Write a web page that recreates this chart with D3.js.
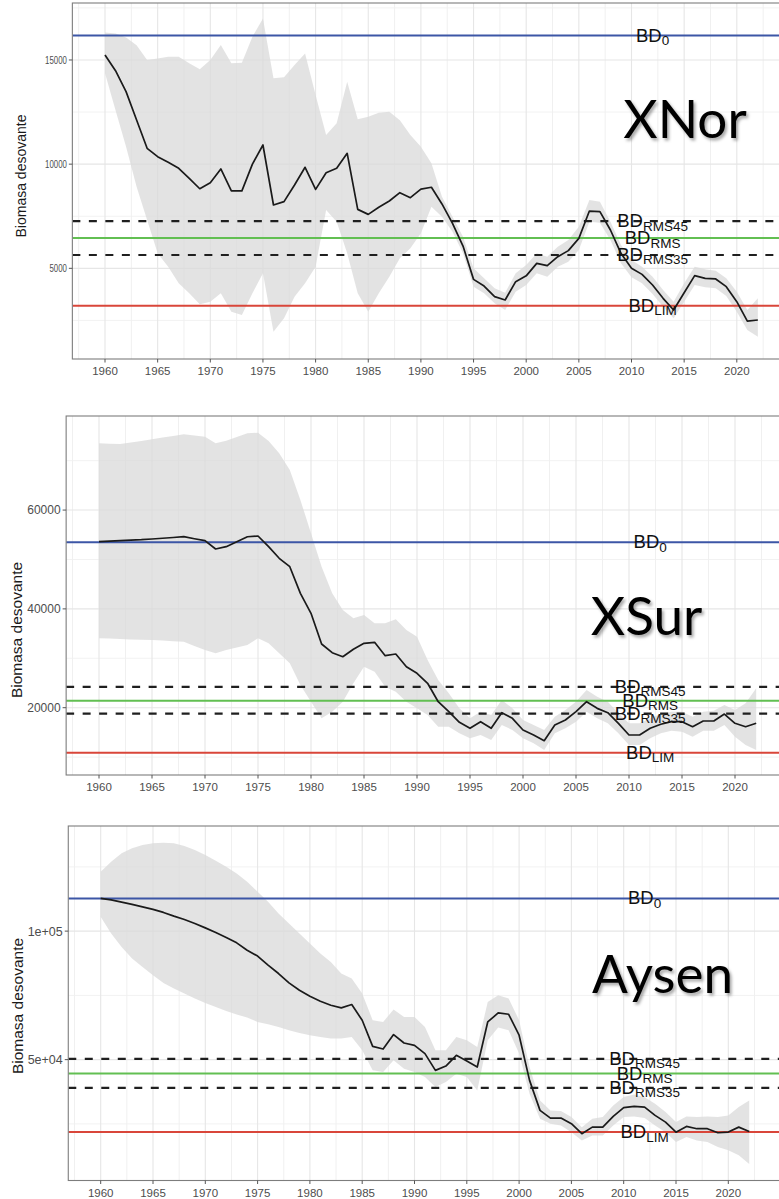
<!DOCTYPE html>
<html>
<head>
<meta charset="utf-8">
<script src="https://cdn.jsdelivr.net/npm/d3@7"></script>
<style>
  body { margin: 0; background: #fff; }
  svg { display: block; }
</style>
</head>
<body>
<script>
// ---- Data -------------------------------------------------------------
const years = d3.range(1960, 2023);
const xTicks = [1960, 1965, 1970, 1975, 1980, 1985, 1990, 1995, 2000, 2005, 2010, 2015, 2020];

// XNor: spawning biomass and confidence band
const xnorBiomass = [15240,14485,13480,12120,10760,10360,10090,9800,9320,8820,9110,9770,8720,8720,10000,10920,8040,8200,9000,9850,8790,9590,9800,10520,7830,7590,7930,8230,8630,8390,8800,8890,8090,7160,6070,4470,4150,3640,3480,4360,4640,5240,5130,5560,5850,6440,7750,7720,6840,5720,5000,4710,4200,3560,3000,3830,4650,4520,4490,4120,3400,2470,2520];
const xnorUpper = [16320,16270,16080,15710,15000,15070,15150,15150,14840,14550,15000,15720,14840,14870,16110,16990,14120,14170,14760,15310,13320,11400,11960,13950,12150,12270,12470,12510,12110,11400,10840,10040,8440,7480,6520,5000,4520,4040,3830,4760,5160,5720,5560,6040,6360,7000,8280,8200,7240,6120,5400,5080,4600,3960,3400,4280,5080,4950,4880,4520,3880,3000,3560];
const xnorLower = [14360,12590,10840,8920,7320,5720,5080,4280,3800,3280,3400,3800,2920,2760,3800,4760,1960,2600,3640,4280,5080,7800,7240,5720,3800,2920,3800,4600,5480,5960,6680,7960,7480,6760,5720,4120,3800,3320,3000,3880,4200,4760,4600,5080,5320,5880,7240,7190,6360,5240,4570,4280,3770,3160,2600,3400,4200,4090,4040,3670,2920,2040,1720];
const xnorRefs = [16170, 7270, 6450, 5640, 3200];
const xnorYTicks = [5000, 10000, 15000];
const xnorYLabels = ["5000", "10000", "15000"];

// XSur
const xsurBiomass = [53600,53700,53800,53900,54000,54150,54300,54450,54610,54200,53800,52120,52590,53600,54600,54750,52590,50240,48540,43150,39100,32890,31130,30320,31820,33030,33240,30530,30870,28300,26960,24940,21210,19190,17040,15830,17170,15830,18990,17850,15490,14470,13320,16500,17510,19190,21210,19870,18990,16840,14470,14470,15830,16640,17170,17170,16150,17310,17310,18720,16840,16150,16840];
const xsurUpper = [73510,73400,73370,73700,74000,74320,74700,75000,75330,75100,74850,73510,74040,74800,75530,75660,74000,71490,68110,62040,55300,48540,43150,39770,38090,38760,37080,37080,37890,35730,34370,29650,25600,22910,19870,17850,19190,18520,21560,19870,17510,16500,15490,18180,19530,21210,23580,22230,21210,18860,16840,16840,17850,18720,19190,19190,18180,19190,19400,20550,19530,20890,23930];
const xsurLower = [34050,34000,33900,33800,33750,33700,33600,33450,33360,32500,31680,31010,31680,32200,32690,34050,33030,31010,28990,24590,21210,17850,19190,21210,24940,28300,27290,24250,23240,21210,19870,18520,16150,16150,14820,13810,14470,13460,16500,15490,13810,12800,11440,14820,15830,17170,19190,17850,16840,14820,12450,12450,13810,14820,15350,15140,14130,15350,15350,16500,14130,12450,11440];
const xsurRefs = [53480, 24200, 21390, 18800, 10900];
const xsurYTicks = [20000, 40000, 60000];
const xsurYLabels = ["20000", "40000", "60000"];

// Aysen
const aysenBiomass = [112730,112180,111290,110380,109450,108440,107270,105830,104540,102990,101270,99480,97530,95430,92580,90300,86740,83500,79850,77000,74660,72710,71160,70120,71430,65310,55180,54130,59740,56470,55570,52340,45830,47510,51680,49460,47120,64650,68160,67650,59500,41930,30250,27250,27250,25060,21170,23740,23740,27910,31300,31810,31530,28300,25690,21790,24010,23120,23120,21560,21820,23740,22060];
const aysenUpper = [123090,126990,130250,132200,133490,134150,134390,134150,133100,131540,129590,127380,125040,122450,119190,115290,111400,106880,102990,99090,95190,91300,88030,83500,81560,75710,65310,64650,69480,66600,66600,62700,53620,53620,58810,57520,54910,72440,75050,73770,65310,47120,34140,30250,29990,27640,23740,27010,27640,32200,35430,36480,35390,32860,29600,25690,27910,27640,27910,27640,28300,31530,34140];
const aysenLower = [105560,99090,93870,89350,86080,82840,79850,77660,75710,73770,72050,70490,68930,67530,66360,64650,63750,62700,61410,60370,59470,58810,58180,58180,58810,53620,45830,45170,49730,46490,45170,43220,39320,41270,44550,43220,38040,57520,62470,61410,52340,36740,27010,25060,24400,21790,18560,20510,20510,24400,27640,27910,27250,24400,21790,17910,19860,18560,17910,16000,14720,12770,9400];
const aysenRefs = [112700, 50300, 44600, 39000, 21800];
const aysenYTicks = [50000, 100000];
const aysenYLabels = ["5e+04", "1e+05"];

// Reference-point labels (BD with subscript) and their line styles
const refSubs = ["0", "RMS45", "RMS", "RMS35", "LIM"];
const refColors = ["#3c56a6", "#1f1f1f", "#62bf52", "#1f1f1f", "#d9463a"];
const refDash = [null, "8,8.5", null, "8,8.5", null];
const refLabelYear = 2012;

// ---- Layout -------------------------------------------------------------
const W = 779, H = 1199;
const svg = d3.select("body").append("svg")
  .attr("width", W).attr("height", H)
  .attr("viewBox", `0 0 ${W} ${H}`);

const defs = svg.append("defs");
const shadow = defs.append("filter").attr("id", "titleShadow")
  .attr("x", "-10%").attr("y", "-20%").attr("width", "130%").attr("height", "150%");
shadow.append("feDropShadow")
  .attr("dx", 2).attr("dy", 2.5).attr("stdDeviation", 1.6)
  .attr("flood-color", "#000").attr("flood-opacity", 0.35);

const panels = [
  { id: "xnor", title: "XNor", biomass: xnorBiomass, upper: xnorUpper, lower: xnorLower,
    refs: xnorRefs, yTicks: xnorYTicks, yLabels: xnorYLabels,
    x1960: 105, ppy: 10.53, top: 3, bottom: 359, yDomain: [648, 17735],
    yLabelSize: 10, yLabelCharW: 4.35, axisTitle: { x: 26, y: 176, size: 14 },
    titlePos: { x: 685, y: 138 } },
  { id: "xsur", title: "XSur", biomass: xsurBiomass, upper: xsurUpper, lower: xsurLower,
    refs: xsurRefs, yTicks: xsurYTicks, yLabels: xsurYLabels,
    x1960: 99, ppy: 10.6, top: 416, bottom: 775, yDomain: [6378, 79040],
    yLabelSize: 12, yLabelCharW: null, axisTitle: { x: 22, y: 630, size: 15.5 },
    titlePos: { x: 646.5, y: 635 } },
  { id: "aysen", title: "Aysen", biomass: aysenBiomass, upper: aysenUpper, lower: aysenLower,
    refs: aysenRefs, yTicks: aysenYTicks, yLabels: aysenYLabels,
    x1960: 100.7, ppy: 10.46, top: 826, bottom: 1180.5, yDomain: [2975, 140900],
    yLabelSize: 12.5, yLabelCharW: null, axisTitle: { x: 23, y: 1006, size: 15.5 },
    titlePos: { x: 662.5, y: 993 } }
];

const fontSans = "'Liberation Sans', Arial, Helvetica, sans-serif";

panels.forEach(p => {
  const x0 = 1960 - 3.1, x1 = 2022 + 3.1;
  const left = p.x1960 - 3.1 * p.ppy;
  const right = left + (x1 - x0) * p.ppy;
  const x = d3.scaleLinear().domain([x0, x1]).range([left, right]);
  const y = d3.scaleLinear().domain(p.yDomain).range([p.bottom, p.top]);

  const g = svg.append("g").attr("class", "panel-" + p.id);

  defs.append("clipPath").attr("id", "clip-" + p.id)
    .append("rect").attr("x", left).attr("y", p.top)
    .attr("width", right - left).attr("height", p.bottom - p.top);

  const body = g.append("g").attr("clip-path", `url(#clip-${p.id})`);

  // grid: minor then major
  const step = p.yTicks[1] - p.yTicks[0];
  const yMinor = [];
  for (let v = p.yTicks[0] - step / 2; v <= p.yDomain[1]; v += step) {
    if (v >= p.yDomain[0]) yMinor.push(v);
  }
  const xMinor = xTicks.map(t => t - 2.5).concat([2022.5]);
  const xMajor = xTicks.concat([2025]);

  body.selectAll(".ymin").data(yMinor).join("line")
    .attr("x1", left).attr("x2", right)
    .attr("y1", d => y(d)).attr("y2", d => y(d))
    .attr("stroke", "#f2f2f2").attr("stroke-width", 1);
  body.selectAll(".xmin").data(xMinor).join("line")
    .attr("x1", d => x(d)).attr("x2", d => x(d))
    .attr("y1", p.top).attr("y2", p.bottom)
    .attr("stroke", "#f0f0f0").attr("stroke-width", 1);
  body.selectAll(".ymaj").data(p.yTicks).join("line")
    .attr("x1", left).attr("x2", right)
    .attr("y1", d => y(d)).attr("y2", d => y(d))
    .attr("stroke", "#e6e6e6").attr("stroke-width", 1.1);
  body.selectAll(".xmaj").data(xMajor).join("line")
    .attr("x1", d => x(d)).attr("x2", d => x(d))
    .attr("y1", p.top).attr("y2", p.bottom)
    .attr("stroke", "#e6e6e6").attr("stroke-width", 1.1);

  // confidence band
  const rows = years.map((yr, i) => ({ yr, b: p.biomass[i], lo: p.lower[i], hi: p.upper[i] }));
  body.append("path").datum(rows)
    .attr("d", d3.area().x(d => x(d.yr)).y0(d => y(d.lo)).y1(d => y(d.hi)))
    .attr("fill", "#d9d9d9").attr("fill-opacity", 0.75);

  // reference lines
  body.selectAll(".ref").data(p.refs).join("line")
    .attr("x1", left).attr("x2", right)
    .attr("y1", d => y(d)).attr("y2", d => y(d))
    .attr("stroke", (d, i) => refColors[i])
    .attr("stroke-width", (d, i) => refDash[i] ? 2.2 : 2)
    .attr("stroke-dasharray", (d, i) => refDash[i]);

  // biomass trajectory
  body.append("path").datum(rows)
    .attr("d", d3.line().x(d => x(d.yr)).y(d => y(d.b)))
    .attr("fill", "none").attr("stroke", "#1a1a1a")
    .attr("stroke-width", 1.7).attr("stroke-linejoin", "round");

  // reference labels
  const lab = body.selectAll(".reflab").data(p.refs).join("text")
    .attr("x", x(refLabelYear)).attr("y", d => y(d) + 6)
    .attr("text-anchor", "middle")
    .attr("font-family", fontSans).attr("fill", "#111");
  lab.append("tspan").attr("font-size", 18.5).text("BD");
  lab.append("tspan").attr("font-size", 13.5).attr("dy", 3.5).text((d, i) => refSubs[i]);

  // big stock title
  body.append("text")
    .attr("x", p.titlePos.x).attr("y", p.titlePos.y)
    .attr("text-anchor", "middle")
    .attr("font-family", "Lato, 'Open Sans', sans-serif")
    .attr("font-size", 53).attr("fill", "#000")
    .attr("filter", "url(#titleShadow)")
    .text(p.title);

  // panel border
  g.append("rect").attr("x", left).attr("y", p.top)
    .attr("width", right - left).attr("height", p.bottom - p.top)
    .attr("fill", "none").attr("stroke", "#7d7d7d").attr("stroke-width", 1.1);

  // x axis
  const xa = g.append("g");
  xa.selectAll("line").data(xTicks).join("line")
    .attr("x1", d => x(d)).attr("x2", d => x(d))
    .attr("y1", p.bottom).attr("y2", p.bottom + 3.5)
    .attr("stroke", "#555").attr("stroke-width", 1);
  xa.selectAll("text").data(xTicks).join("text")
    .attr("x", d => x(d)).attr("y", p.bottom + 16)
    .attr("text-anchor", "middle")
    .attr("font-family", fontSans).attr("font-size", 11.5).attr("fill", "#4d4d4d")
    .text(d => d);

  // y axis
  const ya = g.append("g");
  ya.selectAll("line").data(p.yTicks).join("line")
    .attr("x1", left - 3.5).attr("x2", left)
    .attr("y1", d => y(d)).attr("y2", d => y(d))
    .attr("stroke", "#555").attr("stroke-width", 1);
  const yt = ya.selectAll("text").data(p.yTicks).join("text")
    .attr("x", left - 5.5).attr("y", d => y(d) + p.yLabelSize * 0.36)
    .attr("text-anchor", "end")
    .attr("font-family", fontSans).attr("font-size", p.yLabelSize).attr("fill", "#4d4d4d")
    .text((d, i) => p.yLabels[i]);
  if (p.yLabelCharW) {
    yt.attr("textLength", (d, i) => p.yLabels[i].length * p.yLabelCharW)
      .attr("lengthAdjust", "spacingAndGlyphs");
  }

  // axis title
  g.append("text")
    .attr("transform", `translate(${p.axisTitle.x},${p.axisTitle.y}) rotate(-90)`)
    .attr("text-anchor", "middle")
    .attr("font-family", fontSans).attr("font-size", p.axisTitle.size).attr("fill", "#1a1a1a")
    .text("Biomasa desovante");
});
</script>
</body>
</html>
